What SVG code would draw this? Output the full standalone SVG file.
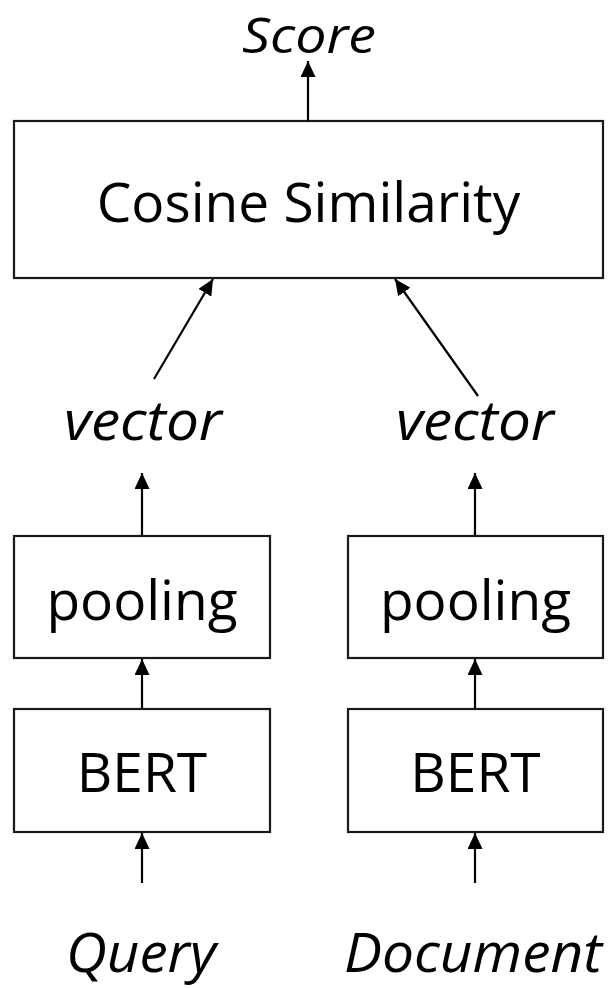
<svg xmlns="http://www.w3.org/2000/svg" width="615" height="988" viewBox="0 0 615 988">
<style>
  .box { fill: #ffffff; stroke: #1a1a1a; stroke-width: 2.2; }
  .lbl { font-family: "Open Sans", "Liberation Sans", sans-serif; font-size: 55px; fill: #000; text-anchor: middle; }
  .it { font-style: italic; }
  .conn { stroke: #000; stroke-width: 2.2; fill: none; marker-end: url(#arrow); }
</style>
<defs>
  <marker id="arrow" markerUnits="userSpaceOnUse" markerWidth="17" markerHeight="15" refX="16" refY="7.5" orient="auto">
    <path d="M0,0 L16,7.5 L0,15 Z" fill="#000"/>
  </marker>
</defs>
<rect width="615" height="988" fill="#ffffff"/>
<g id="score"><text class="lbl it" x="309" y="53" style="font-size:50px" textLength="134" lengthAdjust="spacingAndGlyphs">Score</text></g>
<g id="cosine">
  <rect class="box" x="14" y="121" width="589" height="157"/>
  <text class="lbl" x="308.5" y="222">Cosine Similarity</text>
</g>
<g id="vector-q"><text class="lbl it" x="143" y="440" textLength="158" lengthAdjust="spacingAndGlyphs">vector</text></g>
<g id="vector-d"><text class="lbl it" x="475" y="440" textLength="158" lengthAdjust="spacingAndGlyphs">vector</text></g>
<g id="pooling-q">
  <rect class="box" x="14" y="536" width="256" height="122"/>
  <text class="lbl" x="142" y="620">pooling</text>
</g>
<g id="pooling-d">
  <rect class="box" x="348" y="536" width="255" height="122"/>
  <text class="lbl" x="475.5" y="620">pooling</text>
</g>
<g id="bert-q">
  <rect class="box" x="14" y="709" width="256" height="123"/>
  <text class="lbl" x="142" y="792">BERT</text>
</g>
<g id="bert-d">
  <rect class="box" x="348" y="709" width="255" height="123"/>
  <text class="lbl" x="475.5" y="792">BERT</text>
</g>
<g id="query"><text class="lbl it" x="141" y="972" textLength="150" lengthAdjust="spacingAndGlyphs">Query</text></g>
<g id="document"><text class="lbl it" x="473" y="972" textLength="258" lengthAdjust="spacingAndGlyphs">Document</text></g>
<g id="connectors">
  <line class="conn" x1="308" y1="121" x2="308" y2="61"/>
  <line class="conn" x1="154" y1="379" x2="213" y2="279"/>
  <line class="conn" x1="478" y1="396" x2="395" y2="279"/>
  <line class="conn" x1="142" y1="535" x2="142" y2="473"/>
  <line class="conn" x1="475" y1="535" x2="475" y2="473"/>
  <line class="conn" x1="142" y1="709" x2="142" y2="659"/>
  <line class="conn" x1="475" y1="709" x2="475" y2="659"/>
  <line class="conn" x1="142" y1="883" x2="142" y2="833"/>
  <line class="conn" x1="475" y1="883" x2="475" y2="833"/>
</g>
</svg>
